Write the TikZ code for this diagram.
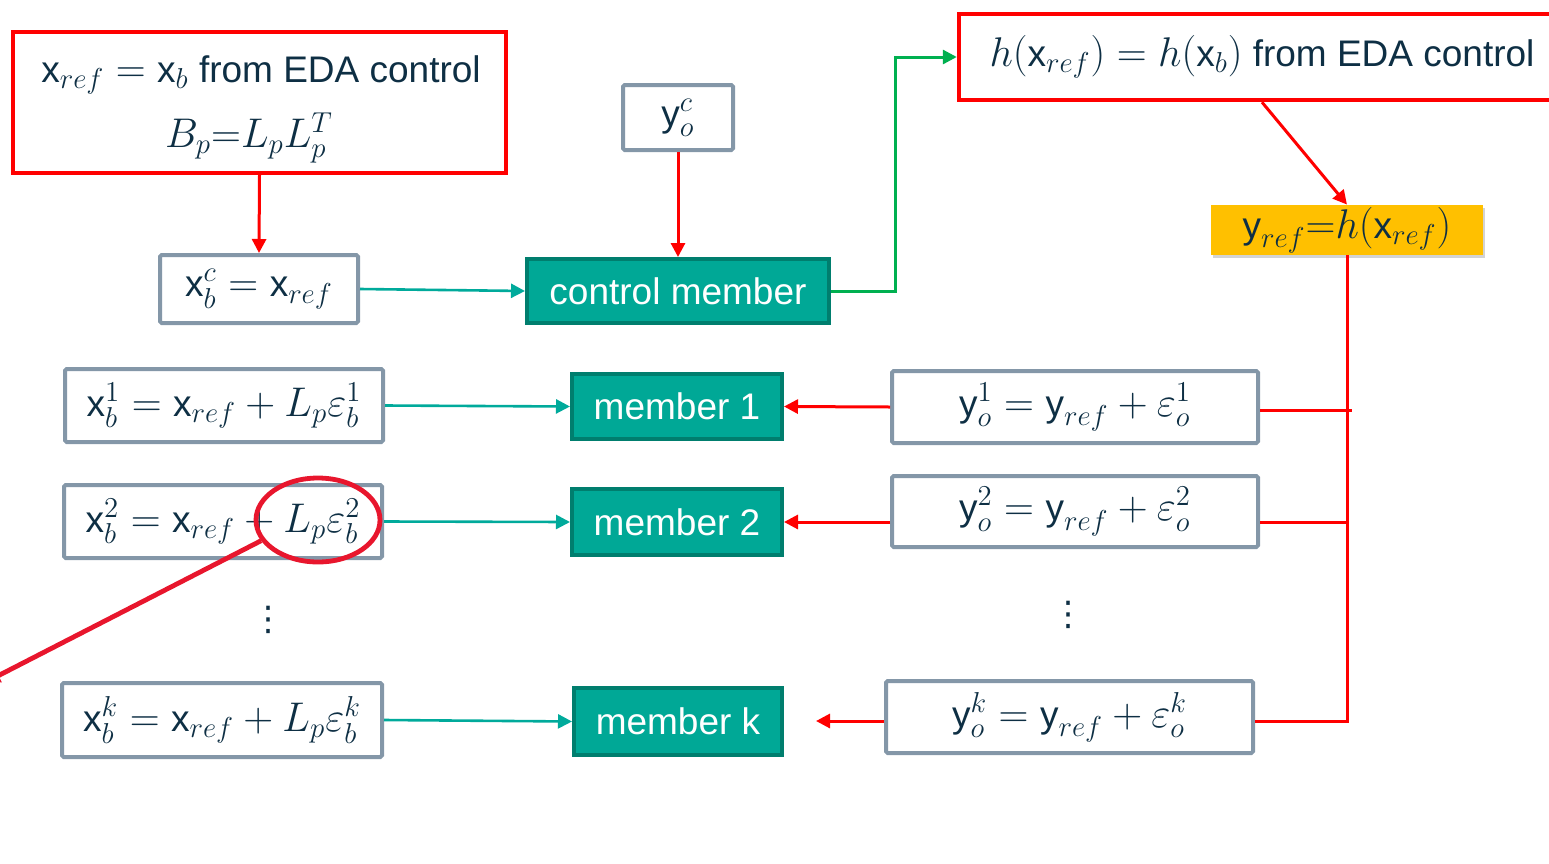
\documentclass[tikz,border=0pt]{standalone}
\usepackage{amsmath}
\usepackage{fontspec}
\setmainfont{Liberation Sans}
\newfontfamily\symbolfont{DejaVu Sans}
\DeclareMathSizes{18.5}{20}{15}{11.5}
\usetikzlibrary{arrows.meta,shapes.geometric,shadows,calc}
\definecolor{ink}{RGB}{14,47,68}
\definecolor{boxgrey}{RGB}{132,151,168}
\definecolor{tealfill}{RGB}{0,168,150}
\definecolor{tealedge}{RGB}{0,126,110}
\definecolor{tealline}{RGB}{0,170,155}
\definecolor{ctrlgreen}{RGB}{0,176,80}
\definecolor{hotred}{RGB}{255,0,0}
\definecolor{markred}{RGB}{232,22,45}
\definecolor{amber}{RGB}{255,192,0}
\newcommand{\ux}{\text{x}}
\newcommand{\uy}{\text{y}}
\begin{document}
\begin{tikzpicture}[x=0.5pt,y=-0.5pt,
  font=\fontsize{18.5}{22}\selectfont,
  every node/.style={text=ink, inner sep=0pt},
  greybox/.style={draw=boxgrey, line width=2pt, fill=white, rounded corners=0.8pt},
  redbox/.style={draw=hotred, line width=2.2pt, fill=white},
  memberbox/.style={draw=tealedge, line width=2pt, fill=tealfill, text=white},
  refbox/.style={fill=amber, drop shadow={opacity=0.35, shadow xshift=1pt, shadow yshift=-1.5pt}},
  dotsnode/.style={font=\symbolfont\fontsize{17}{20}\selectfont},
  tip/.style={-{Triangle[length=7pt,width=7pt]}},
  tealarrow/.style={tip, draw=tealline, line width=1.3pt},
  redarrow/.style={tip, draw=hotred, line width=1.5pt},
  redline/.style={draw=hotred, line width=1.5pt},
  greenarrow/.style={tip, draw=ctrlgreen, line width=1.5pt}
]
\useasboundingbox (0,0) rectangle (1549,863);

% control branch, top row
\node[redbox, minimum width=246.5pt, minimum height=70.5pt] (edaL) at (259.5,102.5) {};
\node (edaLa) at (261,75) {$\ux_{ref}=\ux_b$ from EDA control};
\node (edaLb) at (249,138) {$B_p{=}L_pL_p^T$};

\node[greybox, minimum width=99pt, minimum height=34pt] (xc) at (259,289) {$\ux_b^c=\ux_{ref}$};
\node[greybox, minimum width=55pt, minimum height=32.5pt] (yoc) at (678,117.5) {$\uy_o^c$};
\node[memberbox, minimum width=151pt, minimum height=32pt] (ctrl) at (678,291) {control member};

\node[redbox, minimum width=303pt, minimum height=43pt] (edaR) at (1262,57) {$h(\ux_{ref})=h(\ux_b)$ from EDA control};
\node[refbox, minimum width=136pt, minimum height=25pt] (yref) at (1347,230) {$\uy_{ref}{=}h(\ux_{ref})$};

% perturbed backgrounds
\node[greybox, minimum width=159pt, minimum height=36.5pt] (x1) at (224,405.5) {$\ux_b^1=\ux_{ref}+L_p\varepsilon_b^1$};
\node[greybox, minimum width=159pt, minimum height=36.5pt] (x2) at (223,521.5) {$\ux_b^2=\ux_{ref}+L_p\varepsilon_b^2$};
\node[greybox, minimum width=160pt, minimum height=37pt] (xk) at (222,720) {$\ux_b^k=\ux_{ref}+L_p\varepsilon_b^k$};
\node[dotsnode] (xdots) at (268,620) {⋮};

% members
\node[memberbox, minimum width=105pt, minimum height=32.5pt] (m1) at (677,406.5) {member 1};
\node[memberbox, minimum width=105pt, minimum height=33pt] (m2) at (677,522) {member 2};
\node[memberbox, minimum width=104pt, minimum height=33.5pt] (mk) at (678,721.5) {member k};

% perturbed observations
\node[greybox, minimum width=183pt, minimum height=36pt] (y1) at (1075,407) {$\uy_o^1=\uy_{ref}+\varepsilon_o^1$};
\node[greybox, minimum width=183pt, minimum height=35.5pt] (y2) at (1075,511.5) {$\uy_o^2=\uy_{ref}+\varepsilon_o^2$};
\node[greybox, minimum width=183.5pt, minimum height=36pt] (yk) at (1069.5,717) {$\uy_o^k=\uy_{ref}+\varepsilon_o^k$};
\node[dotsnode] (ydots) at (1068,615) {⋮};

% connectors
\draw[redarrow] (edaL.south) -- (xc.north);
\draw[redarrow] (yoc.south) -- (ctrl.north);
\draw[tealarrow] (xc.east) -- (ctrl.west);
\draw[greenarrow] (ctrl.east) -- ++(64,0) |- (edaR.west);
\draw[redarrow] (edaR.south) -- (yref.north);

\coordinate (bus) at (1349,0);
\coordinate (mkin) at (816,721);
\draw[redline] (yref.south) -- (yref.south |- mkin) -- (yk.east |- mkin);
\draw[redline] ($(y1.east)+(0,3)$) -- ($(y1.east -| bus)+(3,3)$);
\draw[redline] (y2.east |- m2.east) -- (bus |- m2.east);

\draw[tealarrow] (x1.east) -- (m1.west);
\draw[tealarrow] (x2.east) -- (m2.west);
\draw[tealarrow] (xk.east) -- (mk.west);

\draw[redarrow] (y1.west) -- (m1.east);
\draw[redarrow] (y2.west |- m2.east) -- (m2.east);
\draw[redarrow] (yk.west |- mkin) -- (mkin);

% highlight of the perturbation term
\node[ellipse, draw=markred, line width=2.4pt, minimum width=62pt, minimum height=42pt] (mark) at (318,520) {};
\coordinate (markend) at (-14,682);
\draw[draw=markred, line width=2.4pt, -{Triangle[length=7pt,width=7pt]}] (mark.200) -- (markend);
\end{tikzpicture}
\end{document}
